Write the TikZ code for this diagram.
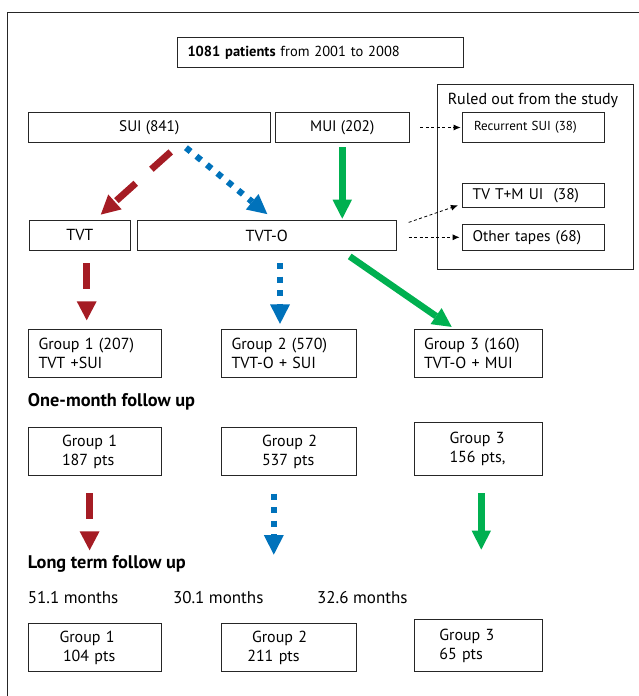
\documentclass[tikz,border=0pt]{standalone}
\usepackage{fontspec}
\setmainfont{PT Sans}
\usepackage{xcolor}
\usepackage{tikz}
\usetikzlibrary{arrows.meta,positioning}

\definecolor{arrred}{HTML}{A51C24}
\definecolor{arrblue}{HTML}{0072BB}
\definecolor{arrgreen}{HTML}{00B050}

\begin{document}
\begin{tikzpicture}[
    x=1pt, y=-1pt,
    box/.style={rectangle, draw=black!85, line width=0.8pt, inner xsep=0pt, inner ysep=0pt, font=\fontsize{16}{19}\selectfont},
    lbox/.style={box, align=left},
    heading/.style={anchor=west, inner sep=0pt, font=\fontsize{18.3}{21}\selectfont\bfseries},
    months/.style={anchor=west, inner sep=0pt, font=\fontsize{17}{20}\selectfont},
    dasharr/.style={-{Latex[length=7pt,width=6pt]}, dash pattern=on 3pt off 2.5pt, line width=0.8pt},
    redarr/.style={arrred, line width=6.8pt, dash pattern=on 26pt off 21pt, -{Triangle[length=19pt,width=20pt,line width=0pt]}},
    bluearr/.style={arrblue, line width=6.2pt, dash pattern=on 6pt off 7.5pt, -{Triangle[length=19.5pt,width=20pt,line width=0pt]}},
    greenarr/.style={arrgreen, line width=6.6pt, -{Triangle[length=19pt,width=19.5pt,line width=0pt]}}
]
    \useasboundingbox (0,0) rectangle (639,696);

    % Frame
    \draw[line width=0.9pt, black!85] (7.5,696) -- (7.5,12) -- (639,12);

    % Top box
    \node[lbox, text width=265pt, inner xsep=10.5pt, minimum height=30.7pt, font=\fontsize{14.5}{17}\selectfont] (patients) at (320,52.3) {\textbf{1081 patients} from 2001 to 2008};

    % Ruled out panel
    \node[box, minimum width=196pt, minimum height=184.7pt] (ruled) at (535.7,176.7) {};
    \node[font=\fontsize{16}{18}\selectfont, inner sep=0pt] (ruledtitle) at (533,100) {Ruled out from the study};
    \node[lbox, text width=118pt, inner xsep=12pt, minimum height=29.6pt, font=\fontsize{13}{15}\selectfont] (recur) at (533,127.5) {Recurrent SUI (38)};
    \node[lbox, text width=120.6pt, inner xsep=10.7pt, minimum height=24pt, font=\fontsize{15.4}{18}\selectfont] (tvtmui) at (533,195.3) {TV T+M UI\ \ (38)};
    \node[lbox, text width=120.6pt, inner xsep=10.7pt, minimum height=26.7pt, font=\fontsize{15.4}{18}\selectfont] (other) at (533,237.3) {Other tapes (68)};

    % Diagnosis and tape
    \node[box, minimum width=241.5pt, minimum height=29.6pt, font=\fontsize{15.3}{18}\selectfont] (sui) at (149.25,127.5) {SUI (841)};
    \node[box, minimum width=133.5pt, minimum height=29.6pt, font=\fontsize{15.3}{18}\selectfont] (mui) at (342.25,127.5) {MUI (202)};
    \node[box, minimum width=101pt, minimum height=29.8pt] (tvt) at (79.8,235.4) {TVT};
    \node[box, minimum width=259pt, minimum height=29.8pt] (tvto) at (266.8,235.4) {TVT-O};

    % Groups
    \node[lbox, text width=113.3pt, inner xsep=10pt, minimum height=48.4pt] (grpA) at (95.15,353.5) {Group~1 (207)\\TVT +SUI};
    \node[lbox, text width=115.3pt, inner xsep=10pt, minimum height=48.4pt] (grpB) at (289.15,353.5) {Group~2 (570)\\TVT-O + SUI};
    \node[lbox, text width=108pt, inner xsep=10pt, minimum height=48.4pt] (grpC) at (478,353.5) {Group~3 (160)\\TVT-O + MUI};

    % One-month follow up
    \node[heading] (onehead) at (27.7,401.7) {One-month follow up};
    \node[lbox, text width=66.3pt, inner xsep=33.5pt, minimum height=48.4pt] (oneA) at (95.15,451.5) {Group~1\\187~pts};
    \node[lbox, text width=54.3pt, inner xsep=40.5pt, minimum height=48.4pt] (oneB) at (289.15,451.5) {Group~2\\537~pts};
    \node[lbox, text width=57pt, inner xsep=35.5pt, minimum height=53pt] (oneC) at (478,449.2) {Group~3\\156~pts,};

    % Long term follow up
    \node[heading] (longhead) at (27.7,564.3) {Long term follow up};
    \node[months] (monA) at (27.7,597.3) {51.1 months};
    \node[months] (monB) at (172.8,597.3) {30.1 months};
    \node[months] (monC) at (317,597.3) {32.6 months};
    \node[lbox, text width=71.3pt, inner xsep=31pt, minimum height=48.4pt] (longA) at (95.15,647.5) {Group~1\\\hspace*{3.5pt}104~pts};
    \node[lbox, text width=83.7pt, inner xsep=25.8pt, minimum height=48.4pt] (longB) at (289.15,647.5) {\hspace*{4.7pt}Group~2\\211~pts};
    \node[lbox, text width=77.4pt, inner xsep=25.3pt, minimum height=52.4pt] (longC) at (478,645.5) {Group~3\\65~pts};

    % Ruled out arrows
    \draw[dasharr, shorten <=11pt, shorten >=1pt] (mui.east) -- (recur.west);
    \draw[dasharr] ([shift={(12,2.3)}]tvto.north east) -- ([shift={(-3.7,-2.3)}]tvtmui.south west);
    \draw[dasharr, shorten <=12pt, shorten >=2pt] (tvto.east |- other.west) -- (other.west);

    % Tape arrows
    \draw[redarr] ([shift={(21.5,9.2)}]sui.south) -- ([shift={(21,-5.5)}]tvt.north);
    \draw[bluearr] ([shift={(36.7,5)}]sui.south) -- ([shift={(0.5,-6)}]tvto.north);
    \draw[greenarr, shorten <=4.4pt, shorten >=1.4pt] (mui.south) -- (mui.south |- tvto.north);

    % Group arrows
    \draw[redarr] ([shift={(6.9,12.4)}]tvt.south) -- ([shift={(-8.45,-8.6)}]grpA.north);
    \draw[bluearr] ([shift={(13.2,12.4)}]tvto.south) -- ([shift={(-9.15,-5)}]grpB.north);
    \draw[greenarr] ([shift={(-47,5.7)}]tvto.south east) -- ([shift={(-26.3,-2)}]grpC.north);

    % Follow up arrows
    \draw[redarr, shorten >=72.6pt] ([shift={(-5.55,17)}]oneA.south) -- ([xshift=-5.55pt]longA.north);
    \draw[bluearr, shorten >=68.3pt] ([shift={(-15.35,17.6)}]oneB.south) -- ([xshift=-15.35pt]longB.north);
    \draw[greenarr, shorten >=69.3pt] ([shift={(3.3,17)}]oneC.south) -- ([xshift=3.3pt]longC.north);
\end{tikzpicture}
\end{document}
